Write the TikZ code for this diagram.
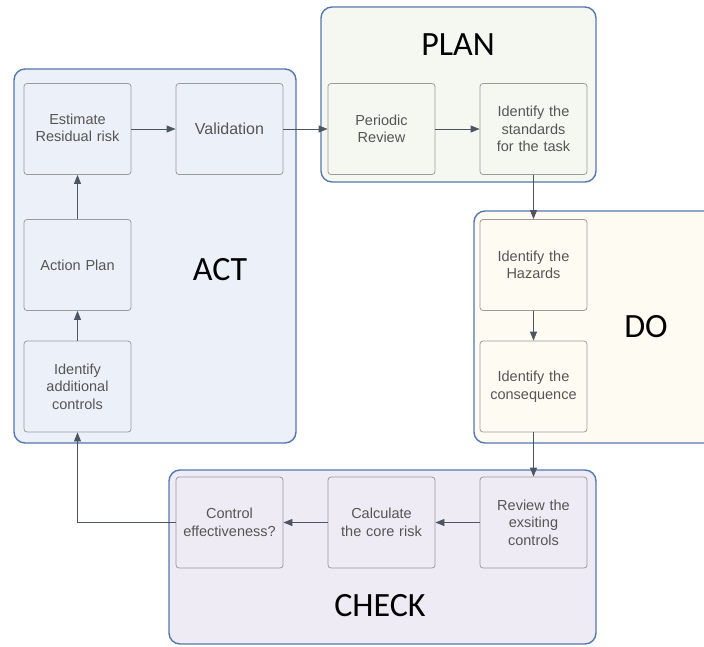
\documentclass[tikz,border=0pt]{standalone}
\usepackage{fontspec}
\setmainfont{Liberation Sans}
\newfontfamily\phasefont{Carlito}
\usetikzlibrary{arrows.meta}

\definecolor{groupline}{HTML}{5577B0}
\definecolor{actfill}{HTML}{ECF0F9}
\definecolor{planfill}{HTML}{F5F8F1}
\definecolor{dofill}{HTML}{FEFBF3}
\definecolor{checkfill}{HTML}{EFEBF5}
\definecolor{stepline}{HTML}{9C9C9C}
\definecolor{steptext}{HTML}{555555}
\definecolor{flowline}{HTML}{4E5562}

\tikzset{
  group/.style={draw=groupline, line width=1.4pt, rounded corners=11pt, inner sep=0pt},
  stepbox/.style={draw=stepline, line width=0.8pt, rounded corners=3pt,
    minimum width=107pt, minimum height=91pt, inner sep=2pt,
    text width=100pt, align=center, text=steptext,
    font=\fontsize{14.5pt}{17.5pt}\selectfont},
  phase/.style={font=\phasefont\fontsize{34pt}{36pt}\selectfont, text=black},
  flow/.style={draw=flowline, line width=0.8pt, -{Triangle[length=9pt,width=7pt]}},
}

\begin{document}
\begin{tikzpicture}[x=1pt,y=-1pt]
\useasboundingbox (0,0) rectangle (704,646);
\clip (0,0) rectangle (704,646);

% phase containers
\node[group, fill=actfill, minimum width=282pt, minimum height=374pt] (act) at (155,256) {};
\node[group, fill=planfill, minimum width=275pt, minimum height=175pt] (plan) at (458.5,94.5) {};
\node[group, fill=dofill, minimum width=246pt, minimum height=232pt] (do) at (597,327) {};
\node[group, fill=checkfill, minimum width=427pt, minimum height=174pt] (check) at (382.5,557) {};

% phase titles
\node[phase] (actlabel) at (220,270) {ACT};
\node[phase] (planlabel) at (458,45) {PLAN};
\node[phase] (dolabel) at (646,327) {DO};
\node[phase] (checklabel) at (380,606) {CHECK};

% ACT steps
\node[stepbox, fill=actfill] (est) at (77.5,129) {Estimate\\Residual risk\vphantom{g}\\[-6pt]};
\node[stepbox, fill=actfill, font=\fontsize{16pt}{18pt}\selectfont] (val) at (229.5,129) {Validation};
\node[stepbox, fill=actfill] (ap) at (77.5,265) {Action Plan};
\node[stepbox, fill=actfill] (iac) at (77.5,386.5) {Identify\\additional\\controls};

% PLAN steps
\node[stepbox, fill=planfill] (pr) at (381.5,129) {Periodic\\Review\\[-6pt]};
\node[stepbox, fill=planfill] (std) at (533.5,129) {Identify the\\standards\\for the task};

% DO steps
\node[stepbox, fill=dofill] (haz) at (533.5,265) {Identify the\\Hazards};
\node[stepbox, fill=dofill] (cons) at (533.5,386.5) {Identify the\\consequence};

% CHECK steps
\node[stepbox, fill=checkfill] (ce) at (229.5,522.5) {Control\\effectiveness?};
\node[stepbox, fill=checkfill] (calc) at (381.5,522.5) {Calculate\\the core risk};
\node[stepbox, fill=checkfill] (rev) at (533.5,522.5) {Review the\\exsiting\\controls};

% flow
\draw[flow] (est) -- (val);
\draw[flow] (val) -- (pr);
\draw[flow] (pr) -- (std);
\draw[flow] (std) -- (haz);
\draw[flow] (haz) -- (cons);
\draw[flow] (cons) -- (rev);
\draw[flow] (rev) -- (calc);
\draw[flow] (calc) -- (ce);
\draw[flow] (ce.west) -| (iac.south);
\draw[flow] (iac) -- (ap);
\draw[flow] (ap) -- (est);
\end{tikzpicture}
\end{document}
